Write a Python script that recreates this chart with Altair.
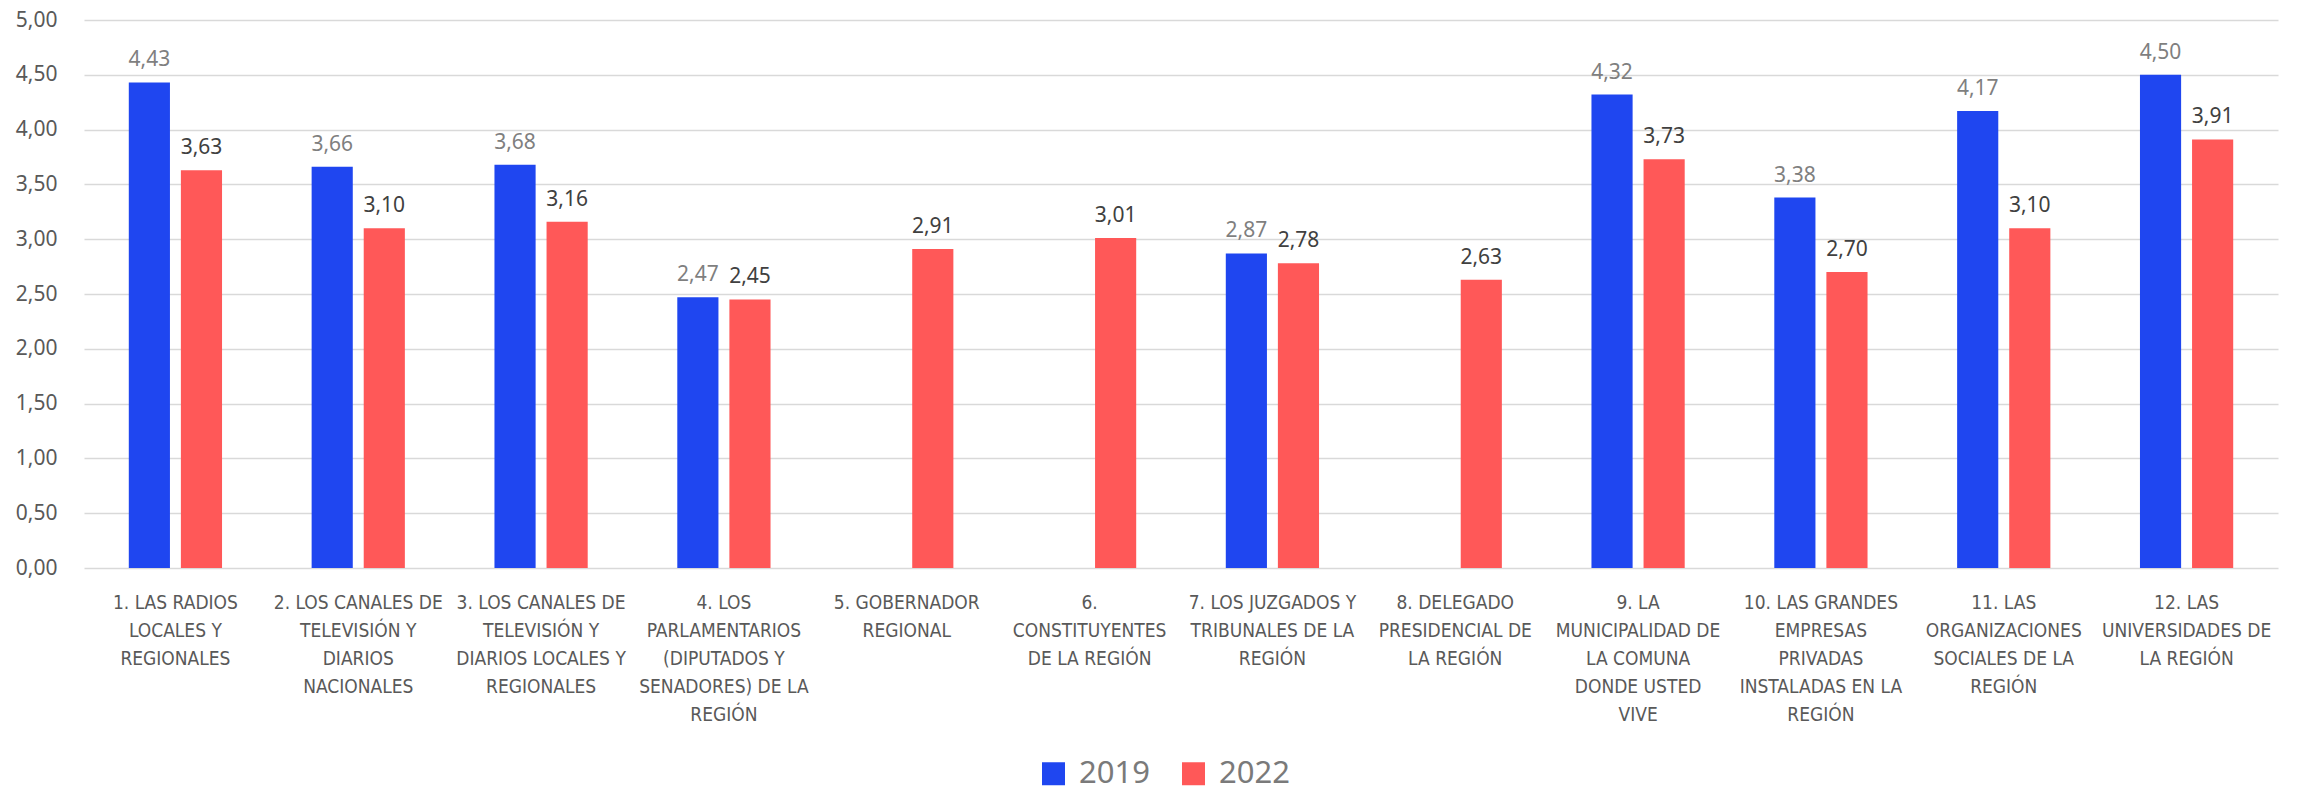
import altair as alt
import pandas as pd

categories = [
    "1. LAS RADIOS|LOCALES Y|REGIONALES",
    "2. LOS CANALES DE|TELEVISIÓN Y|DIARIOS|NACIONALES",
    "3. LOS CANALES DE|TELEVISIÓN Y|DIARIOS LOCALES Y|REGIONALES",
    "4. LOS|PARLAMENTARIOS|(DIPUTADOS Y|SENADORES) DE LA|REGIÓN",
    "5. GOBERNADOR|REGIONAL",
    "6.|CONSTITUYENTES|DE LA REGIÓN",
    "7. LOS JUZGADOS Y|TRIBUNALES DE LA|REGIÓN",
    "8. DELEGADO|PRESIDENCIAL DE|LA REGIÓN",
    "9. LA|MUNICIPALIDAD DE|LA COMUNA|DONDE USTED|VIVE",
    "10. LAS GRANDES|EMPRESAS|PRIVADAS|INSTALADAS EN LA|REGIÓN",
    "11. LAS|ORGANIZACIONES|SOCIALES DE LA|REGIÓN",
    "12. LAS|UNIVERSIDADES DE|LA REGIÓN",
]
values_2019 = [4.43, 3.66, 3.68, 2.47, None, None, 2.87, None, 4.32, 3.38, 4.17, 4.50]
values_2022 = [3.63, 3.10, 3.16, 2.45, 2.91, 3.01, 2.78, 2.63, 3.73, 2.70, 3.10, 3.91]
years = ["2019", "2022"]
bar_colors = ["#1F46F0", "#FF5858"]
y_ticks = [0, 0.5, 1, 1.5, 2, 2.5, 3, 3.5, 4, 4.5, 5]

rows = []
for c, a, b in zip(categories, values_2019, values_2022):
    if a is not None:
        rows.append({"cat": c, "year": "2019", "value": a})
    if b is not None:
        rows.append({"cat": c, "year": "2022", "value": b})
df = pd.DataFrame(rows)

x_enc = alt.X(
    "cat:N",
    sort=categories,
    scale=alt.Scale(domain=categories, paddingInner=0, paddingOuter=0),
    axis=alt.Axis(
        title=None, labelAngle=0, labelExpr="split(datum.label, '|')",
        labelFont="Liberation Sans Narrow, DejaVu Sans Condensed, Roboto, sans-serif",
        labelFontSize=19, labelColor="#595959", labelLineHeight=28,
        labelPadding=25, labelBaseline="top", ticks=False, domain=False,
        labelOverlap=False, labelLimit=0,
    ),
)
xo_enc = alt.XOffset(
    "year:N", scale=alt.Scale(domain=years, paddingInner=0.21, paddingOuter=0.86)
)
y_enc = alt.Y(
    "value:Q",
    scale=alt.Scale(domain=[0, 5], nice=False),
    axis=alt.Axis(
        values=y_ticks, title=None,
        labelExpr="replace(format(datum.value, '.2f'), '.', ',')",
        grid=True, gridColor="#d9d9d9", gridWidth=1.5, ticks=False, domain=False,
        labelPadding=27, labelFontSize=21, labelColor="#595959", labelFont="Noto Sans",
    ),
)

bars = alt.Chart(df).mark_bar().encode(
    x=x_enc, xOffset=xo_enc, y=y_enc,
    color=alt.Color(
        "year:N",
        scale=alt.Scale(domain=years, range=bar_colors),
        legend=alt.Legend(
            orient="none", legendX=954, legendY=738, direction="horizontal",
            title=None, symbolType="square", symbolSize=529, symbolStrokeWidth=0,
            labelFontSize=31, labelFont="Noto Sans", labelColor="#7a7a7a",
            labelOffset=10, columnPadding=28,
        ),
    ),
)

text = alt.Chart(df).transform_calculate(
    label="replace(format(datum.value, '.2f'), '.', ',')"
).mark_text(baseline="alphabetic", dy=-16, fontSize=21, font="Noto Sans").encode(
    x=x_enc, xOffset=xo_enc, y=y_enc, text="label:N",
    color=alt.condition("datum.year == '2019'", alt.value("#7f7f7f"), alt.value("#404040")),
)

chart = (
    alt.layer(bars, text)
    .properties(
        width=2194, height=548,
        autosize=alt.AutoSizeParams(type="none"),
        padding={"left": 76, "top": 12, "right": 18, "bottom": 226},
    )
    .configure_view(stroke=None)
)

chart.save("out.html", embed_options={"renderer": "svg", "actions": False})
